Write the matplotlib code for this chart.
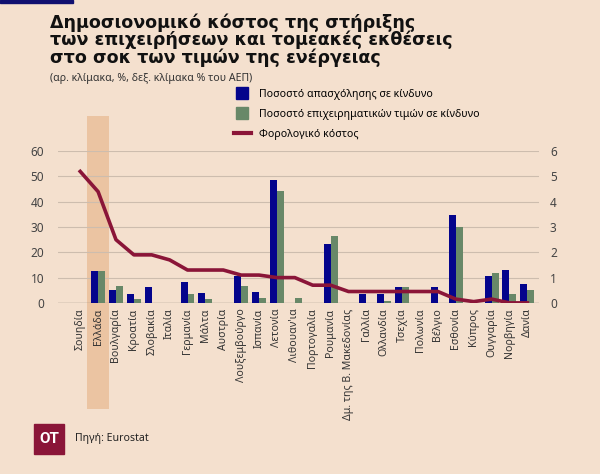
import matplotlib
matplotlib.use('Agg')
import matplotlib.pyplot as plt
import matplotlib.transforms as mtransforms
from matplotlib.lines import Line2D
from matplotlib.patches import Rectangle
import numpy as np

plt.rcParams['font.family'] = ['Noto Sans', 'DejaVu Sans']

# data
countries = ['Σουηδία', 'Ελλάδα', 'Βουλγαρία', 'Κροατία', 'Σλοβακία', 'Ιταλία',
             'Γερμανία', 'Μάλτα', 'Αυστρία', 'Λουξεμβούργο', 'Ισπανία', 'Λετονία',
             "Λιθουαν'ια", 'Πορτογαλία', 'Ρουμανία', 'Δμ. της Β. Μακεδονίας',
             'Γαλλία', 'Ολλανδία', 'Τσεχία', 'Πολωνία', 'Βέλγιο', 'Εσθονία',
             'Κύπρος', 'Ουγγαρία', 'Νορβηγία', 'Δανία']
employment = [0, 12.5, 4.9, 3.4, 6.4, 0, 8.3, 4.1, 0, 10.7, 4.5, 48.8,
              0, 0, 23.4, 0, 3.4, 3.4, 6.3, 0, 6.3, 34.7, 0, 10.5, 13.0, 7.5]
business_value = [0, 12.5, 6.8, 1.7, 0, 0, 3.4, 1.7, 0, 6.8, 2.0, 44.1,
                  2.0, 0, 26.6, 0, 0, 0.8, 6.3, 0, 0, 30.1, 0, 11.8, 3.4, 5.0]
fiscal_cost = [5.2, 4.4, 2.5, 1.9, 1.9, 1.7, 1.3, 1.3, 1.3, 1.1, 1.1, 1.0,
               1.0, 0.7, 0.7, 0.45, 0.45, 0.45, 0.45, 0.45, 0.45, 0.15,
               0.05, 0.15, 0.0, 0.0]
left_ticks = [0, 10, 20, 30, 40, 50, 60]
right_ticks = [0, 1, 2, 3, 4, 5, 6]

BG = '#F4E0CE'
BLUE = '#04048C'
GREEN = '#688868'
RED = '#8A1538'
BAND = '#EBC4A2'

fig = plt.figure(figsize=(6, 4.74), dpi=100, facecolor=BG)
ax = fig.add_axes([0.097, 0.361, 0.801, 0.320])
ax.set_facecolor('none')

x = np.arange(len(countries))
w = 0.39
ax.bar(x - w / 2, employment, width=w, color=BLUE, zorder=3)
ax.bar(x + w / 2, business_value, width=w, color=GREEN, zorder=3)

ax2 = ax.twinx()
ax2.set_facecolor('none')
ax2.plot(x, fiscal_cost, color=RED, lw=2.6, zorder=4, solid_joinstyle='round')
ax2.set_ylim(0, 6)
ax.set_ylim(0, 60)
ax.set_xlim(-1.23, 25.64)

# highlight band for Greece
trans = mtransforms.blended_transform_factory(ax.transData, ax.transAxes)
ax.add_patch(Rectangle((1 - 0.6, -0.70), 1.2, 1.93, transform=trans,
                       facecolor=BAND, edgecolor='none', clip_on=False, zorder=0))

ax.set_yticks(left_ticks)
ax2.set_yticks(right_ticks)
ax.yaxis.grid(True, color='#CDBDAE', lw=0.8, zorder=1)
ax.set_axisbelow(True)
for a in (ax, ax2):
    for s in a.spines.values():
        s.set_visible(False)
ax.axhline(0, color='#7A7068', lw=0.9, zorder=2)

ax.tick_params(axis='y', length=0, pad=10, labelsize=8.5, labelcolor='#444444')
ax2.tick_params(axis='y', length=0, pad=8, labelsize=8.5, labelcolor='#444444')
ax.set_xticks(x)
ax.set_xticklabels(countries, rotation=90, fontsize=7.6, color='#333333')
ax.tick_params(axis='x', length=0, pad=4)

# legend
handles = [Line2D([], [], marker='s', ls='none', ms=8, color=BLUE),
           Line2D([], [], marker='s', ls='none', ms=8, color=GREEN),
           Line2D([], [], color=RED, lw=3)]
labels = ['Ποσοστό απασχόλησης σε κίνδυνο',
          'Ποσοστό επιχειρηματικών τιμών σε κίνδυνο',
          'Φορολογικό κόστος']
fig.legend(handles, labels, loc='upper left', bbox_to_anchor=(0.39, 1 - 89 / 474),
           frameon=False, fontsize=7.6, handlelength=1.6, handletextpad=0.8,
           labelspacing=0.85, borderpad=0, borderaxespad=0)

# titles
fig.text(0.083, 1 - 13 / 474,
         'Δημοσιονομικό κόστος της στήριξης\nτων επιχειρήσεων και τομεακές εκθέσεις\nστο σοκ των τιμών της ενέργειας',
         fontsize=12.6, fontweight='bold', family='DejaVu Sans',
         va='top', ha='left', linespacing=0.94, color='#111111')
fig.text(0.083, 1 - 79 / 474, '(αρ. κλίμακα, %, δεξ. κλίμακα % του ΑΕΠ)',
         fontsize=7.6, va='center', ha='left', color='#333333')

# top strip
fig.patches.append(Rectangle((0, 1 - 3 / 474), 73 / 600, 3 / 474,
                             transform=fig.transFigure, color='#101070'))

# footer
fig.patches.append(Rectangle((34 / 600, 1 - 454 / 474), 30 / 600, 30 / 474,
                             transform=fig.transFigure, color=RED))
fig.text(49 / 600, 1 - 439 / 474, 'OT', color='white', fontsize=11,
         fontweight='bold', family=['Roboto', 'DejaVu Sans'],
         ha='center', va='center')
fig.text(75 / 600, 1 - 439 / 474, 'Πηγή: Eurostat', fontsize=7.6,
         ha='left', va='center', color='#222222')

fig.savefig('out.png', dpi=100, facecolor=BG)
